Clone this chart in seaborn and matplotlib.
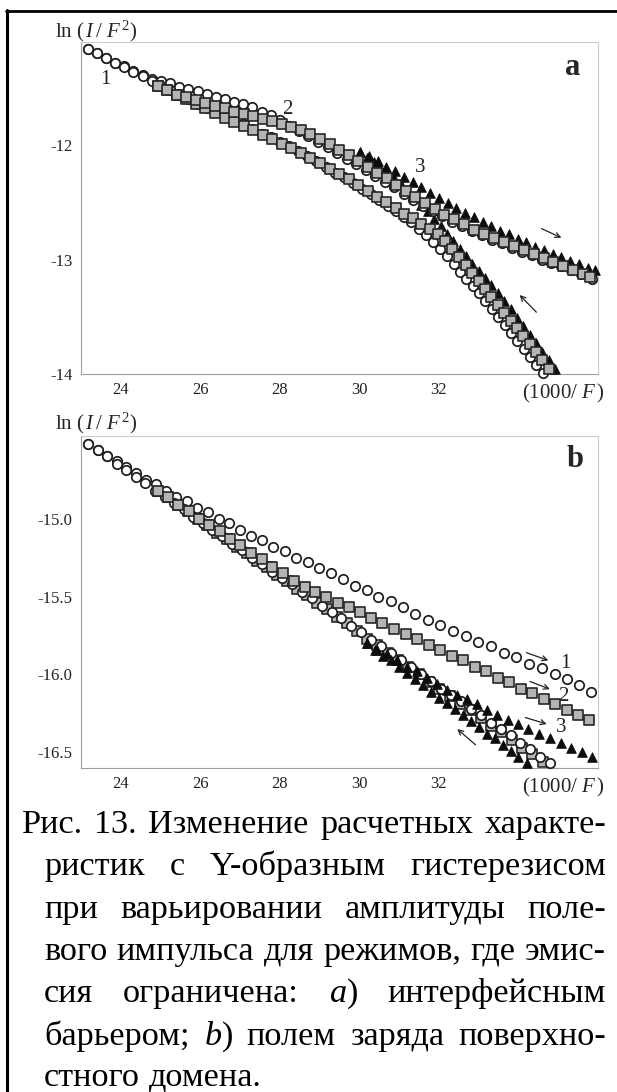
import matplotlib
matplotlib.use("Agg")
import matplotlib.pyplot as plt
from matplotlib.lines import Line2D
from matplotlib.ticker import MultipleLocator, FuncFormatter
import seaborn as sns

# ---------------- data ----------------
# panel a : ln(I/F^2) vs 1000/F
a1f_x = [23.17, 23.40, 23.63, 23.86, 24.09, 24.32, 24.55, 24.78, 25.01, 25.24, 25.47, 25.70, 25.93, 26.16, 26.39, 26.62, 26.85, 27.08,
         27.31, 27.54, 27.77, 28.00, 28.24, 28.48, 28.72, 28.96, 29.20, 29.44, 29.68, 29.92, 30.16, 30.40, 30.64, 30.88, 31.12, 31.36,
         31.60, 31.84, 32.08, 32.33, 32.58, 32.83, 33.08, 33.33, 33.58, 33.83, 34.08, 34.33, 34.58, 34.83, 35.08, 35.33, 35.58, 35.85]
a1f_y = [-11.16, -11.20, -11.24, -11.28, -11.31, -11.35, -11.39, -11.42, -11.44, -11.46, -11.49, -11.51, -11.53, -11.55, -11.58, -11.60, -11.62, -11.64,
         -11.67, -11.71, -11.74, -11.78, -11.83, -11.88, -11.92, -11.97, -12.02, -12.07, -12.12, -12.17, -12.22, -12.27, -12.32, -12.37, -12.43, -12.48,
         -12.53, -12.58, -12.62, -12.67, -12.71, -12.75, -12.79, -12.83, -12.86, -12.90, -12.93, -12.96, -13.00, -13.03, -13.06, -13.09, -13.13, -13.17]
a1b_x = [23.17, 23.40, 23.63, 23.86, 24.09, 24.32, 24.55, 24.78, 25.01, 25.24, 25.47, 25.70, 25.93, 26.16, 26.39, 26.62, 26.85, 27.08,
         27.31, 27.54, 27.77, 28.00, 28.23, 28.46, 28.69, 28.92, 29.15, 29.38, 29.61, 29.84, 30.06, 30.28, 30.50, 30.71, 30.92, 31.12,
         31.31, 31.50, 31.68, 31.86, 32.03, 32.20, 32.37, 32.53, 32.69, 32.85, 33.01, 33.17, 33.33, 33.49, 33.65, 33.81, 33.97, 34.13,
         34.29, 34.45, 34.62]
a1b_y = [-11.16, -11.20, -11.24, -11.28, -11.32, -11.36, -11.40, -11.44, -11.48, -11.52, -11.56, -11.60, -11.64, -11.68, -11.71, -11.75, -11.79, -11.82,
         -11.86, -11.90, -11.93, -11.97, -12.01, -12.05, -12.10, -12.14, -12.19, -12.24, -12.28, -12.33, -12.38, -12.43, -12.48, -12.53, -12.58, -12.63,
         -12.67, -12.73, -12.79, -12.85, -12.91, -12.97, -13.04, -13.11, -13.17, -13.23, -13.29, -13.36, -13.43, -13.50, -13.57, -13.64, -13.71, -13.78,
         -13.85, -13.92, -13.99]
a2f_x = [24.93, 25.17, 25.41, 25.65, 25.89, 26.13, 26.37, 26.61, 26.85, 27.09, 27.33, 27.57, 27.81, 28.05, 28.29, 28.53, 28.77, 29.01,
         29.25, 29.49, 29.73, 29.97, 30.21, 30.45, 30.69, 30.93, 31.17, 31.41, 31.65, 31.89, 32.13, 32.38, 32.63, 32.88, 33.13, 33.38,
         33.63, 33.88, 34.13, 34.38, 34.63, 34.88, 35.13, 35.38, 35.63, 35.80]
a2f_y = [-11.48, -11.52, -11.56, -11.58, -11.61, -11.63, -11.66, -11.68, -11.71, -11.73, -11.75, -11.77, -11.79, -11.82, -11.84, -11.87, -11.90, -11.95,
         -11.99, -12.04, -12.09, -12.14, -12.19, -12.24, -12.29, -12.35, -12.40, -12.45, -12.51, -12.56, -12.61, -12.65, -12.69, -12.74, -12.78, -12.81,
         -12.85, -12.88, -12.92, -12.95, -12.99, -13.02, -13.06, -13.09, -13.13, -13.15]
a2b_x = [24.93, 25.17, 25.41, 25.65, 25.89, 26.13, 26.37, 26.61, 26.85, 27.09, 27.33, 27.57, 27.81, 28.05, 28.29, 28.53, 28.77, 29.01,
         29.25, 29.49, 29.73, 29.97, 30.21, 30.45, 30.68, 30.91, 31.13, 31.35, 31.56, 31.77, 31.97, 32.16, 32.34, 32.51, 32.68, 32.84,
         33.00, 33.16, 33.32, 33.48, 33.64, 33.80, 33.96, 34.12, 34.28, 34.44, 34.60, 34.78]
a2b_y = [-11.48, -11.52, -11.56, -11.60, -11.64, -11.68, -11.72, -11.76, -11.80, -11.83, -11.87, -11.91, -11.95, -11.99, -12.03, -12.07, -12.11, -12.16,
         -12.21, -12.25, -12.30, -12.35, -12.40, -12.45, -12.50, -12.55, -12.60, -12.64, -12.69, -12.73, -12.78, -12.84, -12.91, -12.98, -13.05, -13.12,
         -13.19, -13.26, -13.33, -13.40, -13.47, -13.54, -13.60, -13.67, -13.74, -13.81, -13.88, -13.96]
a3f_x = [30.02, 30.24, 30.46, 30.68, 30.90, 31.12, 31.34, 31.56, 31.78, 32.00, 32.22, 32.44, 32.66, 32.88, 33.10, 33.32, 33.54, 33.76,
         33.98, 34.20, 34.42, 34.64, 34.86, 35.08, 35.30, 35.52, 35.74, 35.92]
a3f_y = [-12.06, -12.10, -12.14, -12.19, -12.23, -12.28, -12.32, -12.37, -12.42, -12.46, -12.51, -12.55, -12.59, -12.63, -12.67, -12.71, -12.75, -12.78,
         -12.82, -12.85, -12.89, -12.92, -12.95, -12.98, -13.01, -13.04, -13.07, -13.09]
a3b_x = [30.02, 30.19, 30.36, 30.53, 30.70, 30.87, 31.04, 31.21, 31.38, 31.55, 31.72, 31.88, 32.04, 32.20, 32.36, 32.52, 32.68, 32.84,
         33.00, 33.16, 33.32, 33.48, 33.64, 33.80, 33.96, 34.12, 34.28, 34.44, 34.60, 34.76, 34.93]
a3b_y = [-12.06, -12.11, -12.15, -12.20, -12.25, -12.29, -12.34, -12.40, -12.46, -12.52, -12.58, -12.65, -12.71, -12.78, -12.84, -12.91, -12.97, -13.04,
         -13.10, -13.16, -13.22, -13.29, -13.36, -13.43, -13.51, -13.58, -13.66, -13.73, -13.81, -13.88, -13.96]

# panel b
b1f_x = [23.18, 23.42, 23.66, 23.90, 24.14, 24.39, 24.64, 24.89, 25.14, 25.40, 25.66, 25.92, 26.19, 26.46, 26.73, 27.00, 27.28, 27.56,
         27.84, 28.12, 28.41, 28.70, 28.99, 29.28, 29.58, 29.88, 30.18, 30.48, 30.79, 31.10, 31.41, 31.72, 32.03, 32.35, 32.67, 32.99,
         33.31, 33.63, 33.95, 34.27, 34.59, 34.91, 35.21, 35.52, 35.83]
b1f_y = [-14.52, -14.56, -14.60, -14.63, -14.67, -14.71, -14.75, -14.78, -14.82, -14.86, -14.89, -14.93, -14.96, -15.00, -15.03, -15.07, -15.11, -15.14,
         -15.18, -15.21, -15.25, -15.28, -15.32, -15.35, -15.39, -15.43, -15.46, -15.50, -15.53, -15.57, -15.61, -15.65, -15.68, -15.72, -15.75, -15.79,
         -15.82, -15.86, -15.89, -15.93, -15.96, -16.00, -16.03, -16.07, -16.11]
b1b_x = [23.18, 23.42, 23.66, 23.90, 24.14, 24.38, 24.62, 24.86, 25.10, 25.34, 25.58, 25.82, 26.06, 26.30, 26.55, 26.80, 27.05, 27.30,
         27.55, 27.80, 28.05, 28.30, 28.55, 28.80, 29.05, 29.30, 29.55, 29.80, 30.05, 30.30, 30.55, 30.80, 31.05, 31.30, 31.55, 31.80,
         32.05, 32.30, 32.55, 32.80, 33.05, 33.30, 33.55, 33.80, 34.05, 34.30, 34.55, 34.80]
b1b_y = [-14.52, -14.56, -14.60, -14.65, -14.69, -14.73, -14.77, -14.82, -14.86, -14.90, -14.94, -14.99, -15.03, -15.07, -15.11, -15.16, -15.20, -15.25,
         -15.29, -15.34, -15.38, -15.42, -15.47, -15.51, -15.56, -15.60, -15.64, -15.69, -15.73, -15.78, -15.82, -15.86, -15.91, -15.95, -16.00, -16.04,
         -16.09, -16.13, -16.17, -16.22, -16.26, -16.31, -16.35, -16.39, -16.44, -16.48, -16.53, -16.57]
b2f_x = [24.93, 25.19, 25.45, 25.71, 25.97, 26.23, 26.49, 26.75, 27.01, 27.27, 27.54, 27.81, 28.08, 28.35, 28.62, 28.89, 29.17, 29.45,
         29.73, 30.01, 30.29, 30.58, 30.87, 31.16, 31.45, 31.74, 32.03, 32.32, 32.61, 32.90, 33.19, 33.48, 33.77, 34.06, 34.35, 34.64,
         34.93, 35.22, 35.50, 35.77]
b2f_y = [-14.82, -14.86, -14.91, -14.95, -15.00, -15.04, -15.08, -15.13, -15.17, -15.22, -15.26, -15.31, -15.35, -15.40, -15.44, -15.47, -15.50, -15.54,
         -15.57, -15.60, -15.64, -15.67, -15.71, -15.74, -15.77, -15.81, -15.84, -15.88, -15.91, -15.95, -15.98, -16.02, -16.05, -16.09, -16.12, -16.16,
         -16.19, -16.23, -16.26, -16.29]
b2b_x = [24.93, 25.18, 25.43, 25.68, 25.93, 26.18, 26.43, 26.68, 26.93, 27.18, 27.43, 27.68, 27.93, 28.18, 28.43, 28.68, 28.93, 29.18,
         29.43, 29.68, 29.93, 30.19, 30.45, 30.71, 30.97, 31.23, 31.49, 31.75, 32.01, 32.27, 32.53, 32.79, 33.05, 33.31, 33.57, 33.83,
         34.09, 34.35, 34.62]
b2b_y = [-14.82, -14.86, -14.91, -14.95, -15.00, -15.04, -15.09, -15.13, -15.18, -15.22, -15.27, -15.31, -15.36, -15.40, -15.45, -15.49, -15.54, -15.58,
         -15.63, -15.67, -15.72, -15.77, -15.81, -15.86, -15.91, -15.95, -16.00, -16.05, -16.09, -16.14, -16.19, -16.23, -16.28, -16.33, -16.37, -16.42,
         -16.47, -16.51, -16.56]
b3f_x = [30.20, 30.45, 30.70, 30.95, 31.20, 31.45, 31.70, 31.95, 32.20, 32.45, 32.70, 32.95, 33.21, 33.47, 33.73, 33.99, 34.25, 34.52,
         34.79, 35.06, 35.33, 35.60, 35.85]
b3f_y = [-15.80, -15.84, -15.87, -15.91, -15.95, -15.98, -16.02, -16.06, -16.10, -16.13, -16.16, -16.19, -16.23, -16.26, -16.29, -16.32, -16.35, -16.38,
         -16.41, -16.44, -16.47, -16.50, -16.53]
b3b_x = [30.20, 30.40, 30.60, 30.80, 31.00, 31.20, 31.40, 31.60, 31.80, 32.00, 32.20, 32.40, 32.60, 32.80, 33.00, 33.20, 33.40, 33.60,
         33.80, 34.00, 34.22]
b3b_y = [-15.80, -15.84, -15.88, -15.91, -15.95, -15.99, -16.03, -16.07, -16.11, -16.15, -16.18, -16.22, -16.26, -16.30, -16.34, -16.38, -16.41, -16.45,
         -16.49, -16.53, -16.57]

ylabel_text = r"$\mathrm{ln}\ (\,I\,/\ F^{\,2})$"
xlabel_text = r"$(1000/\ F\,)$"
panel_letters = ["a", "b"]
curve_names = ["1", "2", "3"]

cap_lines = [
    "Рис. 13. Изменение расчетных характе-",
    "ристик с Y-образным гистерезисом",
    "при варьировании амплитуды поле-",
    "вого импульса для режимов, где эмис-",
    "сия ограничена: $a$) интерфейсным",
    "барьером; $b$) полем заряда поверхно-",
    "стного домена.",
]

# ---------------- styling ----------------
sns.set_theme(style="white")
plt.rcParams['font.family'] = ['Liberation Serif', 'DejaVu Serif']
plt.rcParams['mathtext.fontset'] = 'custom'
plt.rcParams['mathtext.rm'] = 'Liberation Serif'
plt.rcParams['mathtext.it'] = 'Liberation Serif:italic'
plt.rcParams['mathtext.bf'] = 'Liberation Serif:bold'
plt.rcParams['axes.unicode_minus'] = False

W, H = 617, 1092
fig = plt.figure(figsize=(W / 100, H / 100), dpi=100)
fig.patch.set_facecolor('white')


def px_box(l, t, r, b):
    return [l / W, 1 - b / H, (r - l) / W, (b - t) / H]


ax_a = fig.add_axes(px_box(81, 42, 598, 374))
ax_b = fig.add_axes(px_box(81, 436, 598, 768))

circ = dict(marker='o', s=46, color='white', edgecolor='#1e1e1e', linewidth=1.25)
sq = dict(marker='s', s=42, color='#b4b4b4', edgecolor='#262626', linewidth=1.2)
tri = dict(marker='^', s=48, color='#0d0d0d', edgecolor='#0d0d0d', linewidth=0.6)

series_a = [(a3f_x, a3f_y, tri, 3), (a3b_x, a3b_y, tri, 3),
            (a1f_x, a1f_y, circ, 4), (a1b_x, a1b_y, circ, 4),
            (a2b_x, a2b_y, sq, 5), (a2f_x, a2f_y, sq, 5)]
series_b = [(b2b_x, b2b_y, sq, 2),
            (b1f_x, b1f_y, circ, 3), (b1b_x, b1b_y, circ, 3),
            (b3f_x, b3f_y, tri, 4), (b3b_x, b3b_y, tri, 4),
            (b2f_x, b2f_y, sq, 5)]

for ax, series in ((ax_a, series_a), (ax_b, series_b)):
    for xs, ys, st, z in series:
        sns.scatterplot(x=xs, y=ys, ax=ax, zorder=z, legend=False, clip_on=False, **st)

for ax in (ax_a, ax_b):
    ax.set_xlim(23.0, 36.0)
    ax.xaxis.set_major_locator(MultipleLocator(2))
    ax.xaxis.set_minor_locator(MultipleLocator(1))
    ax.xaxis.set_major_formatter(FuncFormatter(lambda v, p: '' if v > 33 else f"{v:.0f}"))
    for side in ('left', 'bottom'):
        ax.spines[side].set_color('#a0a0a0')
        ax.spines[side].set_linewidth(0.8)
    for side in ('top', 'right'):
        ax.spines[side].set_color('#cccccc')
        ax.spines[side].set_linewidth(0.8)
    ax.tick_params(which='major', direction='out', length=4, width=0.7, color='#999999',
                   labelsize=12, labelcolor='#222222', pad=2)
    ax.tick_params(which='minor', direction='out', length=2.5, width=0.6, color='#aaaaaa')
    ax.set_xlabel('')
    ax.set_ylabel('')
    ax.set_facecolor('white')

ax_a.set_ylim(-14.0, -11.1)
ax_a.yaxis.set_major_locator(MultipleLocator(1))
ax_a.yaxis.set_minor_locator(MultipleLocator(0.2))
ax_a.yaxis.set_major_formatter(FuncFormatter(lambda v, p: f"{v:.0f}"))

ax_b.set_ylim(-16.6, -14.47)
ax_b.yaxis.set_major_locator(MultipleLocator(0.5))
ax_b.yaxis.set_minor_locator(MultipleLocator(0.1))
ax_b.yaxis.set_major_formatter(FuncFormatter(lambda v, p: '' if v > -14.75 else f"{v:.1f}"))

# panel letters
ax_a.text(0.952, 0.922, panel_letters[0], transform=ax_a.transAxes, fontsize=22,
          fontweight='bold', ha='center', va='center')
ax_b.text(0.955, 0.928, panel_letters[1], transform=ax_b.transAxes, fontsize=22,
          fontweight='bold', ha='center', va='center')

# axis labels
for ty, by in ((31, 393), (423, 787)):
    fig.text(55 / W, 1 - ty / H, ylabel_text, fontsize=15, ha='left', va='center')
    fig.text(605 / W, 1 - by / H, xlabel_text, fontsize=15, ha='right', va='center')

# curve numbers
lab_a = [(23.6, -11.43), (28.19, -11.69), (31.52, -12.20)]
lab_b = [(35.18, -15.93), (35.13, -16.14), (35.08, -16.34)]
for (x, y), n in zip(lab_a, curve_names):
    ax_a.text(x, y, n, fontsize=15, ha='center', va='center', color='#222222')
for (x, y), n in zip(lab_b, curve_names):
    ax_b.text(x, y, n, fontsize=15, ha='center', va='center', color='#222222')

# arrows
arr = dict(arrowstyle='->', lw=0.9, color='#222222', shrinkA=0, shrinkB=0, mutation_scale=9)
arrows_a = [((34.58, -12.73), (35.08, -12.81)), ((34.45, -13.46), (34.03, -13.31))]
arrows_b = [((34.20, -15.86), (34.75, -15.91)), ((34.29, -16.045), (34.79, -16.094)),
            ((34.17, -16.276), (34.71, -16.318)), ((32.92, -16.451), (32.46, -16.350))]
for s, e in arrows_a:
    ax_a.annotate('', xy=e, xytext=s, arrowprops=arr)
for s, e in arrows_b:
    ax_b.annotate('', xy=e, xytext=s, arrowprops=arr)

# frame lines
fig.add_artist(Line2D([7 / W, 7 / W], [0, 1 - 10 / H], color='black', lw=2.2, transform=fig.transFigure))
fig.add_artist(Line2D([6 / W, 1], [1 - 11 / H, 1 - 11 / H], color='black', lw=2.0, transform=fig.transFigure))

# caption, justified; font size fitted so the widest line just fills the measure
cap_base = [833, 875, 918, 960, 1002, 1045, 1086]
cap_x0 = [22, 44, 44, 44, 44, 44, 44]
cap_x1 = 606
fig.canvas.draw()
rend = fig.canvas.get_renderer()
probe = 20.0
scale = 10.0
for i, line in enumerate(cap_lines[:-1]):
    t = fig.text(0, 0, line, fontsize=probe)
    wd = t.get_window_extent(renderer=rend).width
    t.remove()
    scale = min(scale, (cap_x1 - cap_x0[i]) / wd)
cap_size = probe * scale * 0.995

for i, line in enumerate(cap_lines):
    words = line.split(' ')
    x0 = cap_x0[i]
    ts = [fig.text(0, 0, w, fontsize=cap_size, ha='left', va='baseline', color='black') for w in words]
    ws = [t.get_window_extent(renderer=rend).width for t in ts]
    sp = fig.text(0, 0, 'a a', fontsize=cap_size)
    sp2 = fig.text(0, 0, 'aa', fontsize=cap_size)
    space_w = sp.get_window_extent(renderer=rend).width - sp2.get_window_extent(renderer=rend).width
    sp.remove()
    sp2.remove()
    if i < len(cap_lines) - 1 and len(words) > 1:
        gap = (cap_x1 - x0 - sum(ws)) / (len(words) - 1)
    else:
        gap = space_w
    x = x0
    for t, w in zip(ts, ws):
        t.set_position((x / W, 1 - cap_base[i] / H))
        x += w + gap

fig.savefig('out.png', dpi=100, facecolor='white')
